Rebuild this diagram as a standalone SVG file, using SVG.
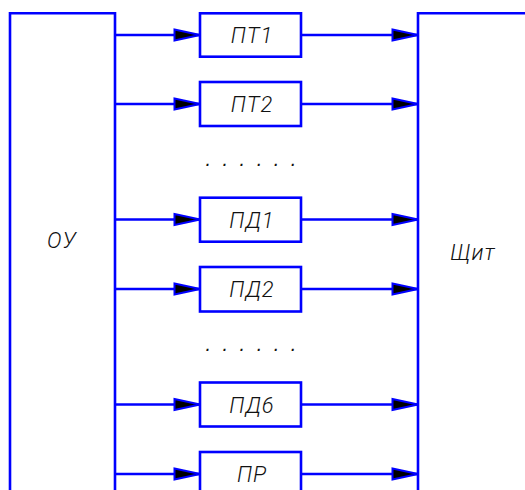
<svg xmlns="http://www.w3.org/2000/svg" width="525" height="490" viewBox="0 0 525 490">
<defs>
<marker id="arr" markerUnits="userSpaceOnUse" markerWidth="32" markerHeight="18" refX="27" refY="9" orient="auto">
<path d="M1.5,3.5 L27,9 L1.5,14.5 Z" fill="#000" stroke="#0000ff" stroke-width="2" stroke-linejoin="miter"/>
</marker>
</defs>
<style>
.ln{stroke:#0000ff;stroke-width:2.6;fill:none}
.bx{stroke:#0000ff;stroke-width:2.6;fill:#fff}
.t{font-family:Roboto,"Liberation Sans",Arial,sans-serif;font-style:italic;font-weight:300;font-size:22px;fill:#111;letter-spacing:1px}
.d{font-family:"Liberation Sans",Arial,sans-serif;font-style:italic;font-size:20px;fill:#111;letter-spacing:11.5px}
</style>
<rect width="525" height="490" fill="#fff"/>
<g id="connectors">
<path class="ln" d="M115,35 H200" marker-end="url(#arr)"/>
<path class="ln" d="M301,35 H418" marker-end="url(#arr)"/>
<path class="ln" d="M115,104 H200" marker-end="url(#arr)"/>
<path class="ln" d="M301,104 H418" marker-end="url(#arr)"/>
<path class="ln" d="M115,219.5 H200" marker-end="url(#arr)"/>
<path class="ln" d="M301,219.5 H418" marker-end="url(#arr)"/>
<path class="ln" d="M115,289 H200" marker-end="url(#arr)"/>
<path class="ln" d="M301,289 H418" marker-end="url(#arr)"/>
<path class="ln" d="M115,404.5 H200" marker-end="url(#arr)"/>
<path class="ln" d="M301,404.5 H418" marker-end="url(#arr)"/>
<path class="ln" d="M115,474 H200" marker-end="url(#arr)"/>
<path class="ln" d="M301,474 H418" marker-end="url(#arr)"/>
</g>
<g id="OU">
<path class="ln" d="M10,495 V13.3 H115 V495"/>
<text class="t" x="62" y="248" text-anchor="middle">ОУ</text>
</g>
<g id="Shchit">
<path class="ln" d="M418,495 V13.3 H530"/>
<text class="t" x="473" y="260" text-anchor="middle">Щит</text>
</g>
<g id="PT1">
<rect class="bx" x="200" y="13.3" width="101" height="43.4"/>
<text class="t" x="252" y="43" text-anchor="middle">ПТ1</text>
</g>
<g id="PT2">
<rect class="bx" x="200" y="82" width="101" height="44"/>
<text class="t" x="252" y="112" text-anchor="middle">ПТ2</text>
</g>
<g id="dots1">
<text class="d" x="205.5" y="165.5">......</text>
</g>
<g id="PD1">
<rect class="bx" x="200" y="197.7" width="101" height="44"/>
<text class="t" x="252" y="227.5" text-anchor="middle">ПД1</text>
</g>
<g id="PD2">
<rect class="bx" x="200" y="267" width="101" height="44.5"/>
<text class="t" x="252" y="297" text-anchor="middle">ПД2</text>
</g>
<g id="dots2">
<text class="d" x="205.5" y="351">......</text>
</g>
<g id="PD6">
<rect class="bx" x="200" y="382.5" width="101" height="44"/>
<text class="t" x="252" y="412.5" text-anchor="middle">ПД6</text>
</g>
<g id="PR">
<rect class="bx" x="200" y="452" width="101" height="44"/>
<text class="t" x="252" y="482" text-anchor="middle">ПР</text>
</g>
</svg>
